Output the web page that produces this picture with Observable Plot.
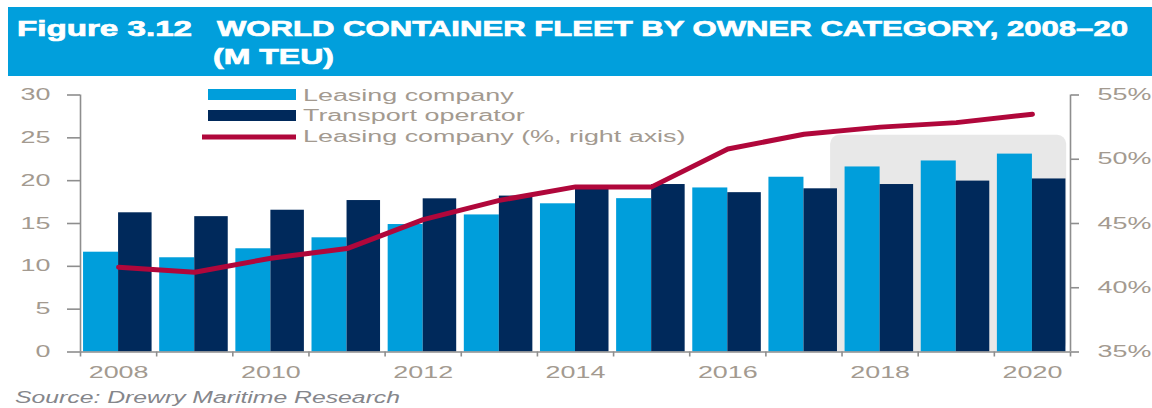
<!DOCTYPE html>
<html><head><meta charset="utf-8">
<script src="https://cdn.jsdelivr.net/npm/d3@7"></script>
<script src="https://cdn.jsdelivr.net/npm/@observablehq/plot@0.6"></script>
<style>
html,body{margin:0;padding:0;background:#fff;}
body{width:1152px;height:408px;position:relative;overflow:hidden;font-family:"Liberation Sans",Arial,sans-serif;}
#chart{position:absolute;left:0;top:80px;}
#overlay{position:absolute;left:0;top:0;}
</style></head><body>
<div id="chart"></div>
<svg id="overlay" width="1152" height="408"></svg>
<script>
// ---- data ----
const years = [2008, 2009, 2010, 2011, 2012, 2013, 2014, 2015, 2016, 2017, 2018, 2019, 2020];
const leasingTEU = [11.65, 11.0, 12.05, 13.33, 14.88, 16.0, 17.3, 17.9, 19.15, 20.4, 21.6, 22.3, 23.1];
const transportTEU = [16.25, 15.8, 16.55, 17.68, 17.88, 18.2, 19.3, 19.55, 18.6, 19.05, 19.55, 19.95, 20.2];
const leasingShare = [41.6, 41.2, 42.3, 43.05, 45.3, 46.8, 47.85, 47.85, 50.8, 51.95, 52.5, 52.85, 53.5];
const leftTicks = [0, 5, 10, 15, 20, 25, 30];
const rightTicks = [35, 40, 45, 50, 55];
const labeledYears = [2008, 2010, 2012, 2014, 2016, 2018, 2020];
const forecastFrom = [2017.35];
const forecastTo = [2020.45];
const forecastTop = [25.3];
const titleLead = "Figure 3.12";
const titleMain = "WORLD CONTAINER FLEET BY OWNER CATEGORY, 2008–20";
const titleUnit = "(M TEU)";
const legendLabels = ["Leasing company", "Transport operator", "Leasing company (%, right axis)"];
const sourceText = "Source: Drewry Maritime Research";

// ---- derived ----
const LIGHT = "#009edb", DARK = "#00295b", RED = "#b0073b", AXIS = "#8e8e8e", LABEL = "#a39a90";
const K = 30 / 20;
const toLeft = p => (p - 35) * K;
const toPct = v => v / K + 35;
const rows = years.map((year, i) => ({year, leasing: leasingTEU[i], transport: transportTEU[i], share: leasingShare[i]}));
const forecast = forecastFrom.map((f, i) => ({from: f, to: forecastTo[i], top: forecastTop[i]}));
const xmin = years[0] - 0.5, xmax = years[years.length - 1] + 0.5;
const boundaries = years.map(y => y - 0.5).concat([xmax]);

const chart = Plot.plot({
  width: 1152, height: 328,
  marginLeft: 80, marginRight: 82, marginTop: 14.5, marginBottom: 56.5,
  x: {domain: [xmin, xmax]},
  y: {domain: [0, 30]},
  style: {fontFamily: '"Liberation Sans", Arial, sans-serif', fontSize: "16px", background: "transparent", overflow: "visible"},
  marks: [
    Plot.rect(forecast, {x1: "from", x2: "to", y1: 0, y2: "top", fill: "#e8e8e8", rx: 9}),
    Plot.rect(rows, {x1: d => d.year - 0.46, x2: d => d.year, y1: 0, y2: "leasing", fill: LIGHT}),
    Plot.rect(rows, {x1: d => d.year, x2: d => d.year + 0.44, y1: 0, y2: "transport", fill: DARK}),
    Plot.line(rows, {x: "year", y: d => toLeft(d.share), stroke: RED, strokeWidth: 5, strokeLinecap: "round", strokeLinejoin: "round"}),
    Plot.ruleY([0], {stroke: AXIS, strokeWidth: 1.6}),
    Plot.ruleX([xmin, xmax], {stroke: AXIS, strokeWidth: 1.6}),
    Plot.axisY({anchor: "left", ticks: leftTicks, tickSize: 13, tickPadding: 17, label: null, stroke: AXIS, fill: LABEL, strokeWidth: 1.6, fontSize: 16}),
    Plot.axisY({anchor: "right", ticks: rightTicks.map(toLeft), tickFormat: v => `${Math.round(toPct(v))}%`, tickSize: 8, tickPadding: 19, label: null, stroke: AXIS, fill: LABEL, strokeWidth: 1.6, fontSize: 16}),
    Plot.axisX({ticks: boundaries, tickFormat: () => "", tickSize: 5, label: null, stroke: AXIS, strokeWidth: 1.6}),
    Plot.axisX({ticks: labeledYears, tickFormat: d => String(d), tickSize: 0, tickPadding: 15, label: null, fill: LABEL, fontSize: 16})
  ]
});
document.getElementById("chart").appendChild(chart);

// ---- overlay: title, legend, source ----
const ov = d3.select("#overlay");
ov.append("rect").attr("x", 8).attr("y", 7).attr("width", 1144).attr("height", 69).attr("fill", "#019fdc");
const tStyle = s => s.attr("fill", "#fff").attr("stroke", "#fff").attr("stroke-width", 0.7)
  .attr("font-family", '"Liberation Sans", Arial, sans-serif').attr("font-weight", "bold").attr("font-size", 22)
  .attr("lengthAdjust", "spacingAndGlyphs");
ov.append("text").text(titleLead).attr("x", 17).attr("y", 36).call(tStyle).attr("textLength", 175);
ov.append("text").text(titleMain).attr("x", 217).attr("y", 36).call(tStyle).attr("textLength", 911);
ov.append("text").text(titleUnit).attr("x", 213).attr("y", 64).call(tStyle).attr("textLength", 121);

ov.append("rect").attr("x", 208).attr("y", 89).attr("width", 88).attr("height", 11).attr("fill", LIGHT);
ov.append("rect").attr("x", 208).attr("y", 110).attr("width", 88).attr("height", 11).attr("fill", DARK);
ov.append("line").attr("x1", 202).attr("x2", 296).attr("y1", 137).attr("y2", 137).attr("stroke", RED).attr("stroke-width", 5);
const legendBase = [100.5, 121.3, 142];
legendLabels.forEach((lab, i) => {
  ov.append("text").attr("class", "stretch").text(lab).attr("x", 303).attr("y", legendBase[i])
    .attr("fill", LABEL).attr("font-size", 16).attr("font-family", '"Liberation Sans", Arial, sans-serif');
});
ov.append("text").text(sourceText).attr("x", 15).attr("y", 403).attr("fill", "#85868b")
  .attr("font-size", 16).attr("font-style", "italic").attr("font-family", '"Liberation Sans", Arial, sans-serif')
  .attr("textLength", 385).attr("lengthAdjust", "spacingAndGlyphs");

// horizontal stretch of the reference's lettering
function stretch(nodes, f) {
  nodes.forEach(t => {
    if (t.hasAttribute("textLength")) return;
    const L = t.getComputedTextLength();
    if (L > 0) { t.setAttribute("textLength", L * f); t.setAttribute("lengthAdjust", "spacingAndGlyphs"); }
  });
}
stretch(chart.querySelectorAll("text"), 1.68);
stretch(document.querySelectorAll("#overlay text.stretch"), 1.68);
</script>
</body></html>
